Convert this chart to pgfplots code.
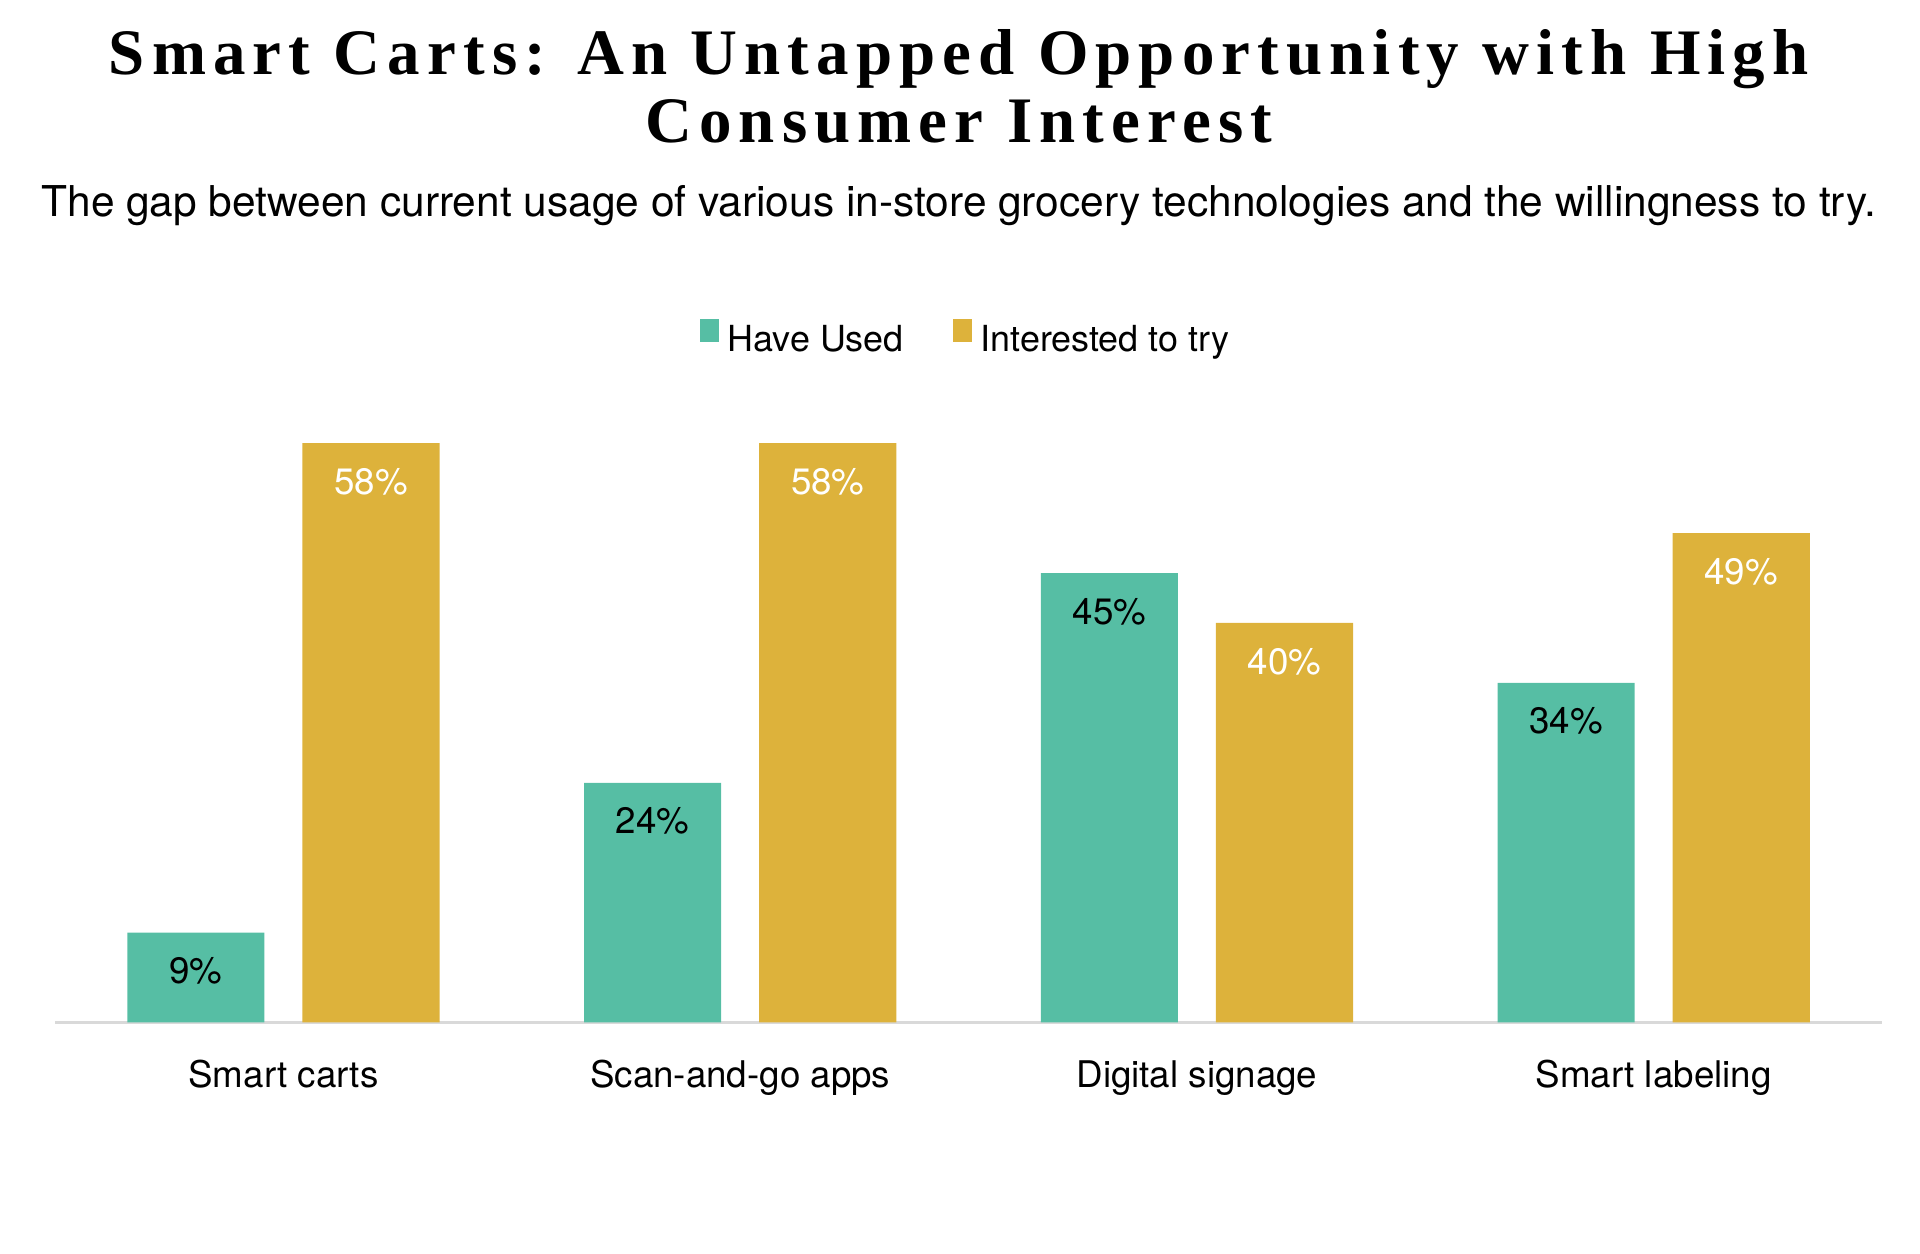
\documentclass[border=0pt]{standalone}
\usepackage{fontspec}
\setmainfont{TeX Gyre Heros}
\newfontfamily\titlefont[LetterSpace=11]{Liberation Serif}
\usepackage{pgfplots}
\pgfplotsset{compat=1.18}
\definecolor{cgreen}{HTML}{56BEA4}
\definecolor{cgold}{HTML}{DDB23B}
\definecolor{caxis}{HTML}{D9D9D9}
\begin{document}
\begin{tikzpicture}
\path (0,0) rectangle (470.4pt,307.2pt);
\node[anchor=base, inner sep=0pt] at (234.9pt,288.9pt) {\fontsize{15.9}{18}\selectfont\titlefont\bfseries Smart Carts: An Untapped Opportunity with High};
\node[anchor=base, inner sep=0pt] at (234.9pt,272.4pt) {\fontsize{15.9}{18}\selectfont\titlefont\bfseries Consumer Interest};
\node[anchor=base, inner sep=0pt] at (234.9pt,254.1pt) {\fontsize{10.4}{12}\selectfont The gap between current usage of various in-store grocery technologies and the willingness to try.};
\begin{axis}[
  at={(13.5pt,56.7pt)}, anchor=south west,
  scale only axis, width=447.6pt, height=146.8pt,
  xmin=-0.5, xmax=3.5, ymin=0, ymax=60,
  hide y axis,
  axis x line*=bottom,
  x axis line style={draw=caxis, line width=0.6pt, -},
  xtick={0,1,2,3},
  xticklabels={Smart carts, Scan-and-go apps, Digital signage, Smart labeling},
  xtick style={draw=none},
  xticklabel style={font=\fontsize{9}{11}\selectfont, anchor=base, yshift=-11.6pt, inner sep=0pt},
  ybar, bar width=33.6pt,
  clip=false,
  nodes near coords={\pgfmathprintnumber[assume math mode=true]{\pgfplotspointmeta}\%},
  every node near coord/.append style={font=\fontsize{9}{11}\selectfont, anchor=base, yshift=-12.5pt, inner sep=0pt},
  legend columns=2,
  legend style={at={(0.5,1)}, anchor=south, yshift=14pt, draw=none, inner sep=0pt,
    font=\fontsize{8.8}{10}\selectfont,
    /tikz/every even column/.append style={column sep=10pt}},
  legend image code/.code={\fill[#1,draw=none] (0pt,-0.2pt) rectangle (4.8pt,5.4pt);},
]
\addplot[fill=cgreen, draw=none, bar shift=-21.45pt, every node near coord/.append style={text=black}]
  coordinates {(0,9) (1,24) (2,45) (3,34)};
\addlegendentry{Have Used}
\addplot[fill=cgold, draw=none, bar shift=21.45pt, every node near coord/.append style={text=white}]
  coordinates {(0,58) (1,58) (2,40) (3,49)};
\addlegendentry{Interested to try}
\end{axis}
\end{tikzpicture}
\end{document}
